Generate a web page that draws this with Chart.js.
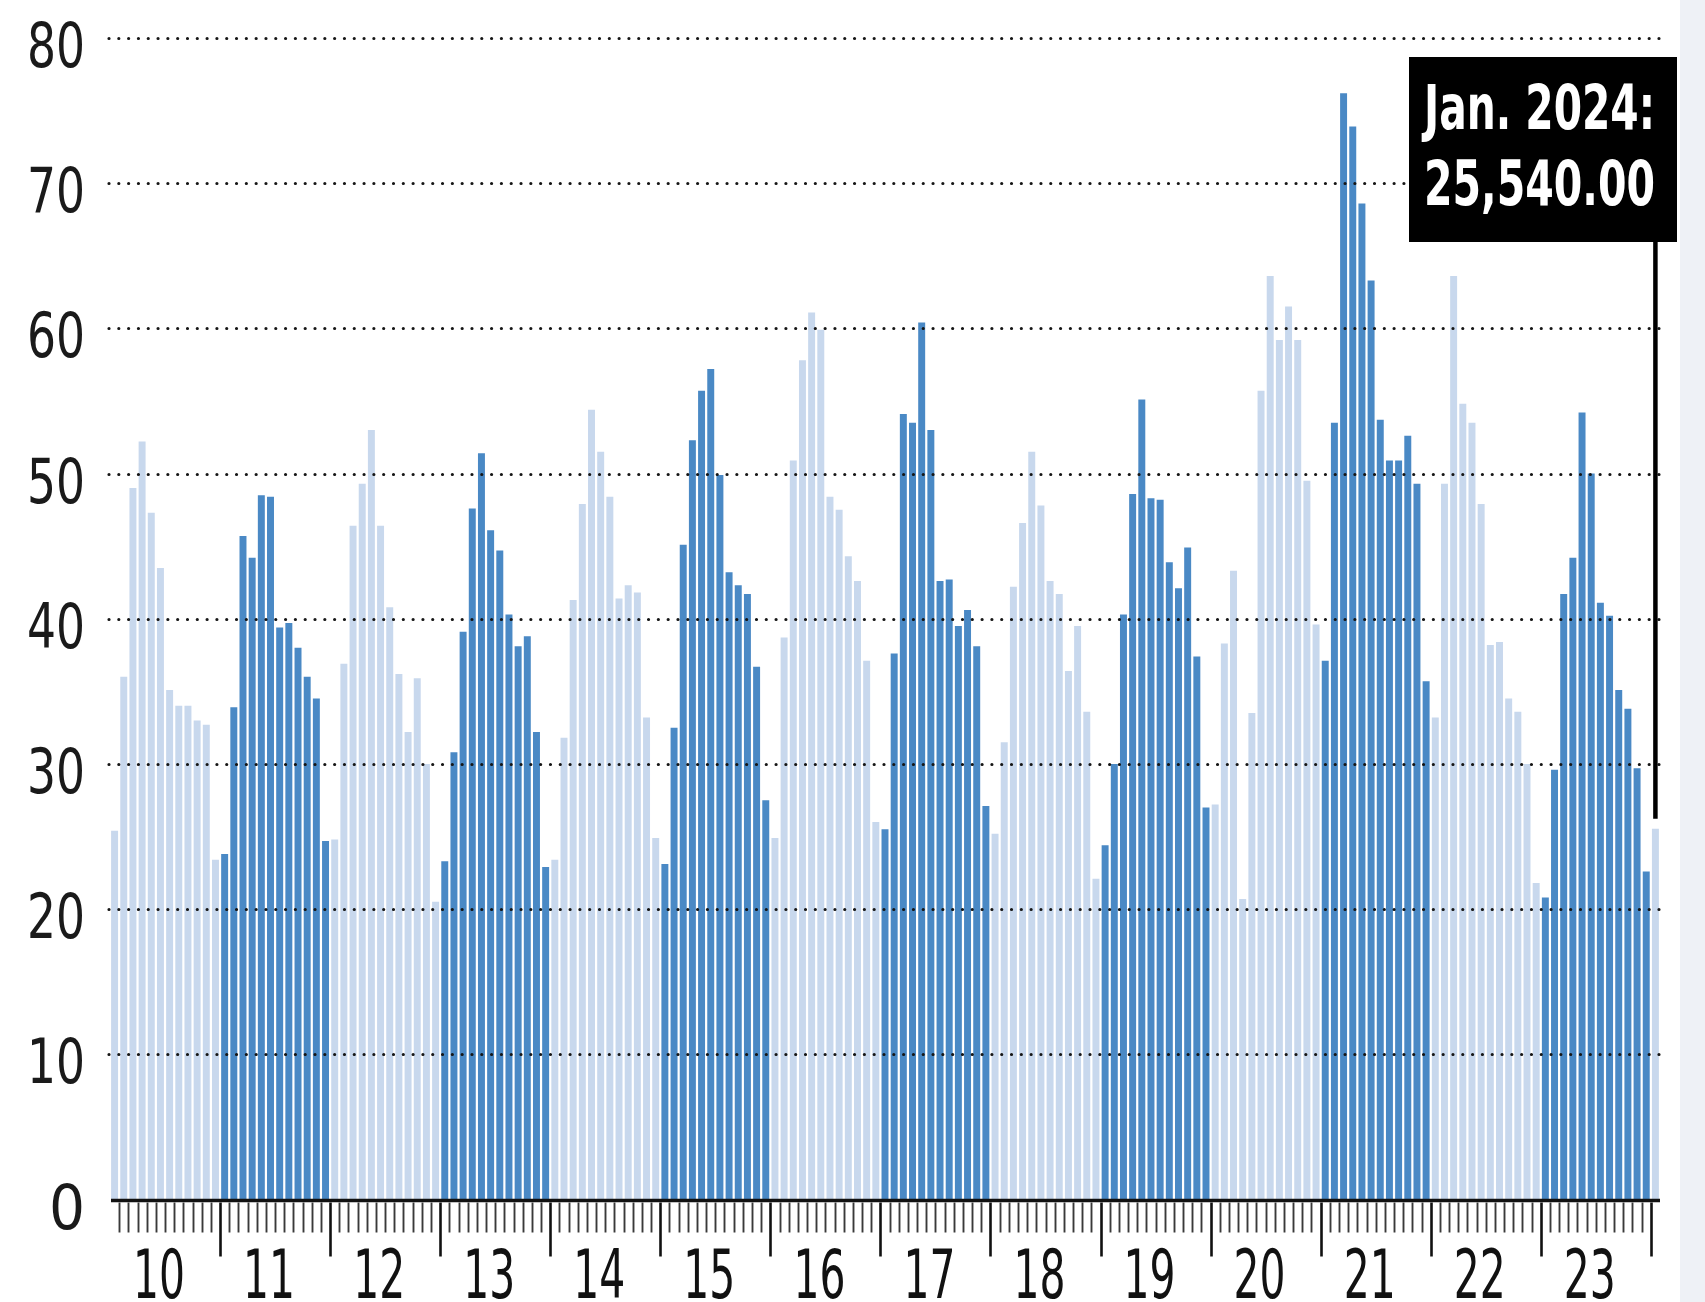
<!DOCTYPE html>
<html>
<head>
<meta charset="utf-8">
<script src="https://cdn.jsdelivr.net/npm/chart.js@4.4.1/dist/chart.umd.min.js"></script>
<style>
html,body{margin:0;padding:0;background:#ffffff;}
body{width:1705px;height:1302px;overflow:hidden;position:relative;}
#strip{position:absolute;left:1680px;top:0;width:25px;height:1302px;background:#eef1f6;}
#wrap{position:absolute;left:0;top:0;width:1705px;height:1302px;}
</style>
</head>
<body>
<div id="strip"></div>
<div id="wrap"><canvas id="c" width="1705" height="1302"></canvas></div>
<script>
// ---- data ----
const years = ['2010','2011','2012','2013','2014','2015','2016','2017','2018','2019','2020','2021','2022','2023','2024'];
const monthNames = ['Jan','Feb','Mar','Apr','May','Jun','Jul','Aug','Sep','Oct','Nov','Dec'];
const v2010 = [25.4, 36.0, 49.0, 52.2, 47.3, 43.5, 35.1, 34.0, 34.0, 33.0, 32.7, 23.4];
const v2011 = [23.8, 33.9, 45.7, 44.2, 48.5, 48.4, 39.4, 39.7, 38.0, 36.0, 34.5, 24.7];
const v2012 = [24.8, 36.9, 46.4, 49.3, 53.0, 46.4, 40.8, 36.2, 32.2, 35.9, 30.0, 20.5];
const v2013 = [23.3, 30.8, 39.1, 47.6, 51.4, 46.1, 44.7, 40.3, 38.1, 38.8, 32.2, 22.9];
const v2014 = [23.4, 31.8, 41.3, 47.9, 54.4, 51.5, 48.4, 41.4, 42.3, 41.8, 33.2, 24.9];
const v2015 = [23.1, 32.5, 45.1, 52.3, 55.7, 57.2, 49.9, 43.2, 42.3, 41.7, 36.7, 27.5];
const v2016 = [24.9, 38.7, 50.9, 57.8, 61.1, 59.9, 48.4, 47.5, 44.3, 42.6, 37.1, 26.0];
const v2017 = [25.5, 37.6, 54.1, 53.5, 60.4, 53.0, 42.6, 42.7, 39.5, 40.6, 38.1, 27.1];
const v2018 = [25.2, 31.5, 42.2, 46.6, 51.5, 47.8, 42.6, 41.7, 36.4, 39.5, 33.6, 22.1];
const v2019 = [24.4, 30.0, 40.3, 48.6, 55.1, 48.3, 48.2, 43.9, 42.1, 44.9, 37.4, 27.0];
const v2020 = [27.2, 38.3, 43.3, 20.7, 33.5, 55.7, 63.6, 59.2, 61.5, 59.2, 49.5, 39.6];
const v2021 = [37.1, 53.5, 76.2, 73.9, 68.6, 63.3, 53.7, 50.9, 50.9, 52.6, 49.3, 35.7];
const v2022 = [33.2, 49.3, 63.6, 54.8, 53.5, 47.9, 38.2, 38.4, 34.5, 33.6, 30.0, 21.8];
const v2023 = [20.8, 29.6, 41.7, 44.2, 54.2, 50.0, 41.1, 40.2, 35.1, 33.8, 29.7, 22.6];
const v2024 = [25.54];
const yearLabels = ['10','11','12','13','14','15','16','17','18','19','20','21','22','23'];
const yTickValues = [0, 10, 20, 30, 40, 50, 60, 70, 80];
const calloutLines = ['Jan. 2024:', '25,540.00'];

// ---- build ----
const byYear = [v2010,v2011,v2012,v2013,v2014,v2015,v2016,v2017,v2018,v2019,v2020,v2021,v2022,v2023,v2024];
const categories = [];
const values = [];
const yearIndex = [];
byYear.forEach((arr, yi) => {
  arr.forEach((v, m) => {
    categories.push(monthNames[m] + ' ' + years[yi]);
    values.push(v);
    yearIndex.push(yi);
  });
});
const LIGHT = '#c8d8ed';
const DARK = '#4a89c5';
const colors = yearIndex.map(yi => (yi % 2 === 0 ? LIGHT : DARK));

const FONT = "'Liberation Sans Narrow', 'DejaVu Sans Condensed', 'Roboto', sans-serif";

const decor = {
  id: 'decor',
  afterDatasetsDraw(chart) {
    const ctx = chart.ctx;
    const xs = chart.scales.x, ys = chart.scales.y;
    const area = chart.chartArea;
    const n = values.length;
    const step = xs.getPixelForValue(1) - xs.getPixelForValue(0);
    const boundary = i => xs.getPixelForValue(i) - step / 2;

    // dotted gridlines
    ctx.save();
    ctx.strokeStyle = '#161616';
    ctx.lineWidth = 3.2;
    ctx.lineCap = 'round';
    ctx.setLineDash([0.01, 9.8]);
    yTickValues.forEach(v => {
      if (v === 0) return;
      const y = Math.round(ys.getPixelForValue(v)) + 0.5;
      ctx.beginPath();
      ctx.moveTo(area.left - 1, y);
      ctx.lineTo(area.right + 3, y);
      ctx.stroke();
    });
    ctx.restore();

    ctx.save();
    // y labels
    ctx.fillStyle = '#1a1a1a';
    ctx.font = '63px ' + FONT;
    ctx.textAlign = 'right';
    ctx.textBaseline = 'alphabetic';
    yTickValues.forEach(v => {
      const y = ys.getPixelForValue(v);
      ctx.fillText(String(v), 85, y + 29, 58);
    });

    // axis line
    const y0 = ys.getPixelForValue(0);
    ctx.strokeStyle = '#111';
    ctx.lineWidth = 3.5;
    ctx.beginPath();
    ctx.moveTo(area.left + 1, y0 + 1);
    ctx.lineTo(area.right, y0 + 1);
    ctx.stroke();

    // ticks
    for (let i = 1; i < n; i++) {
      const x = Math.round(boundary(i)) + 0.5;
      const major = i % 12 === 0;
      ctx.strokeStyle = major ? '#111' : '#3a3a3a';
      ctx.lineWidth = major ? 2.6 : 1.9;
      ctx.beginPath();
      ctx.moveTo(x, y0 + 3);
      ctx.lineTo(x, y0 + (major ? 57 : 33));
      ctx.stroke();
    }

    // year labels
    ctx.fillStyle = '#111';
    ctx.font = '68px ' + FONT;
    ctx.textAlign = 'center';
    yearLabels.forEach((lab, k) => {
      const cx = (xs.getPixelForValue(k * 12) + xs.getPixelForValue(k * 12 + 11)) / 2 - 6;
      ctx.fillText(lab, cx, 1298, 52);
    });

    // callout
    const lastX = xs.getPixelForValue(n - 1);
    const lastY = ys.getPixelForValue(values[n - 1]);
    ctx.fillStyle = '#000';
    ctx.fillRect(1409, 57, 268, 185);
    ctx.strokeStyle = '#000';
    ctx.lineWidth = 4.5;
    ctx.beginPath();
    ctx.moveTo(lastX, 240);
    ctx.lineTo(lastX, lastY - 10);
    ctx.stroke();
    ctx.fillStyle = '#fff';
    ctx.font = 'bold 63px ' + FONT;
    ctx.textAlign = 'left';
    ctx.fillText(calloutLines[0], 1424, 129, 231);
    ctx.fillText(calloutLines[1], 1424, 205, 231);
    ctx.restore();
  }
};

function draw() {
  new Chart(document.getElementById('c'), {
    type: 'bar',
    data: {
      labels: categories,
      datasets: [{
        data: values,
        backgroundColor: colors,
        borderWidth: 0,
        barPercentage: 0.76,
        categoryPercentage: 1.0
      }]
    },
    options: {
      responsive: false,
      animation: false,
      devicePixelRatio: 1,
      layout: { padding: { left: 110, right: 45, top: 38, bottom: 102.5 } },
      plugins: { legend: { display: false }, tooltip: { enabled: false } },
      scales: {
        x: { display: false, offset: true },
        y: { display: false, min: 0, max: 80 }
      }
    },
    plugins: [decor]
  });
}
if (document.fonts && document.fonts.load) {
  document.fonts.load("64px 'Liberation Sans Narrow'").then(draw, draw);
} else { draw(); }
</script>
</body>
</html>
